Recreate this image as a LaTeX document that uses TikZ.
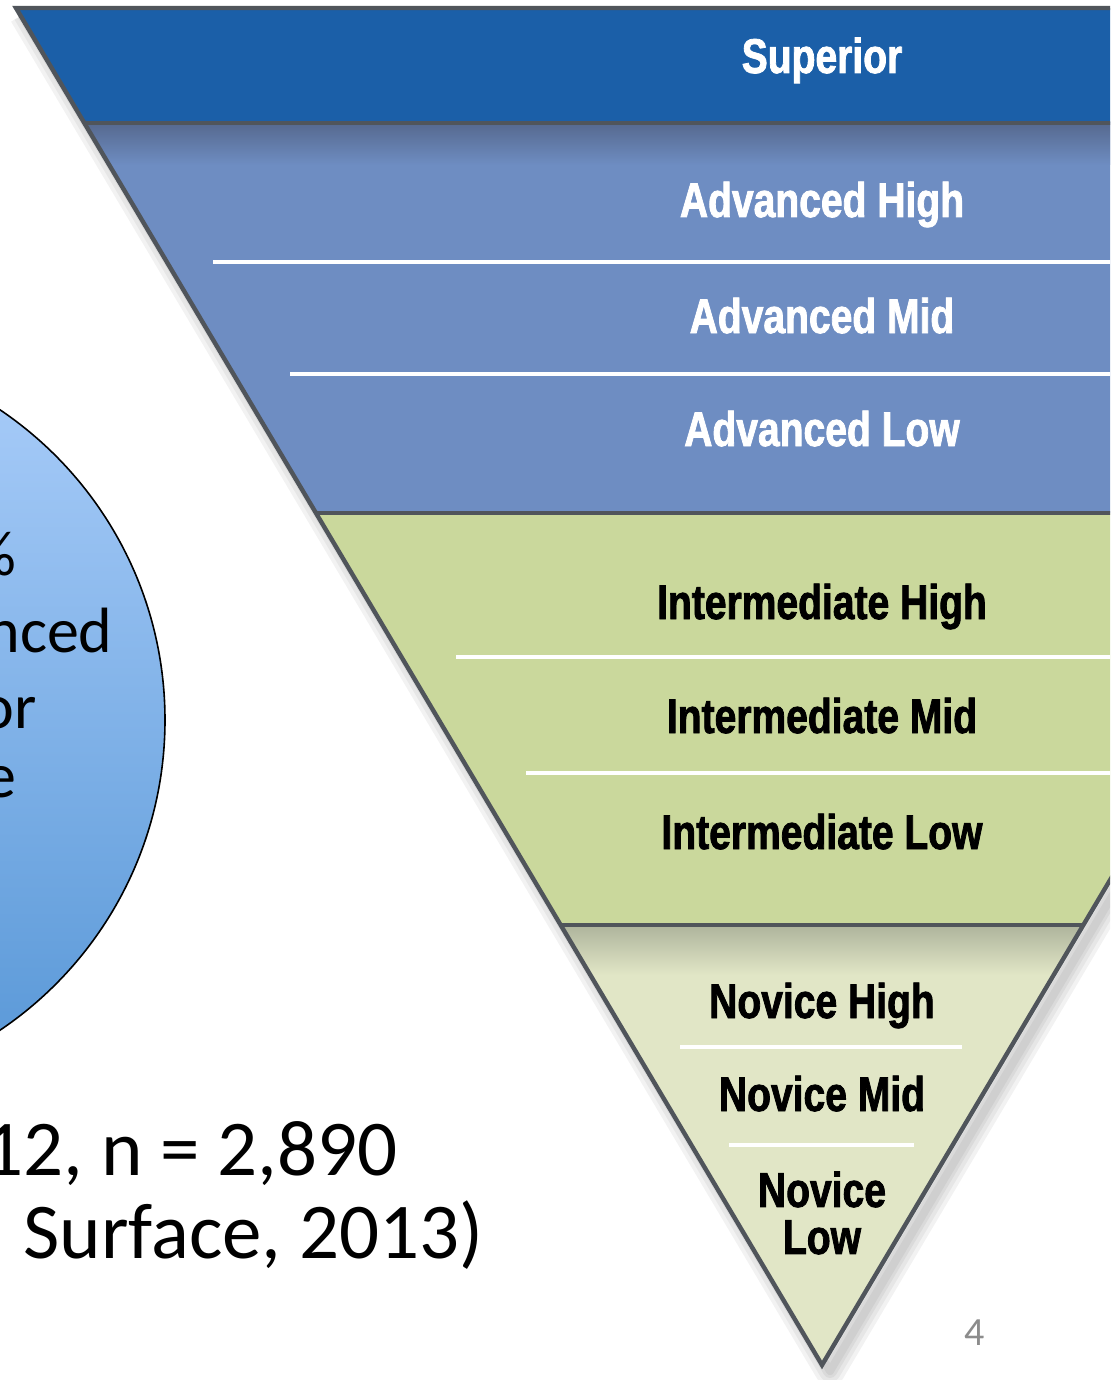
\documentclass[tikz,border=0pt]{standalone}
\usepackage{fontspec}
\setmainfont{Carlito}
\newfontfamily\levelfont[FakeStretch=0.8,BoldFeatures={FakeBold=1.6}]{Liberation Sans}

\definecolor{supblue}{HTML}{1B5FA8}
\definecolor{advblue}{HTML}{6E8DC2}
\definecolor{advshade}{HTML}{56698F}
\definecolor{intgreen}{HTML}{CAD89C}
\definecolor{novgreen}{HTML}{E1E6C6}
\definecolor{novshade}{HTML}{AEB49C}
\definecolor{rim}{HTML}{50555B}
\definecolor{balltop}{HTML}{ABCEFA}
\definecolor{ballbot}{HTML}{5696D6}

\begin{document}
\begin{tikzpicture}[x=0.5pt,y=-0.5pt,
  lvl/.style={font=\levelfont\bfseries\fontsize{24.4}{23.5}\selectfont,inner sep=0pt},
  lvlw/.style={lvl,text=white,anchor=base},
  lvlk/.style={lvl,text=black,anchor=base},
  sep/.style={white,line width=1.6pt},
  band/.style={rim,line width=2.2pt},
  big/.style={font=\fontsize{39.5}{44}\selectfont,inner sep=0pt,anchor=base east},
  ballnote/.style={font=\fontsize{32}{38}\selectfont,inner sep=0pt,anchor=base east}]
 \useasboundingbox (0,0) rectangle (1110,1380);
 \clip (0,0) rectangle (1110,1380);

 % circle on the left, mostly off the page
 \shade[top color=balltop,bottom color=ballbot] (-209,720) circle (374);
 \draw[black,line width=0.8pt] (-209,720) circle (374);
 \node[ballnote] (pct) at (17,575) {\%};
 \node[ballnote] (nced) at (113,652) {nced};
 \node[ballnote] (or) at (37,728) {or};
 \node[ballnote] (e) at (17,797) {e};

 \node[big] (cnt) at (398,1175) {12, n = 2,890};
 \node[big] (src) at (484,1258) {. Surface, 2013)};

 % corners of the pyramid
 \coordinate (tl) at (16,8);
 \coordinate (tr) at (1628,8);
 \coordinate (apex) at (822,1365);

 % soft shadow
 \foreach \w in {30,22,14,8}
  \draw[black,opacity=0.05,line width=\w*0.5pt,line join=round]
   (24,14) -- (830,1371) -- (1636,14);

 \begin{scope}
  \clip (tl) -- (tr) -- (apex) -- cycle;
  \fill[supblue] (0,8) rectangle (1700,123);
  \fill[advblue] (0,123) rectangle (1700,513);
  \shade[top color=advshade,bottom color=advblue] (0,123) rectangle (1700,165);
  \fill[intgreen] (0,513) rectangle (1700,925);
  \fill[novgreen] (0,925) rectangle (1700,1365);
  \shade[top color=novshade,bottom color=novgreen] (0,925) rectangle (1700,975);
  % thin white rules between sublevels
  \draw[sep] (213,262) -- (1700,262);
  \draw[sep] (290,374) -- (1700,374);
  \draw[sep] (456,657) -- (1700,657);
  \draw[sep] (526,773) -- (1700,773);
  \draw[sep] (680,1047) -- (962,1047);
  \draw[sep] (729,1145) -- (914,1145);
  % dark rules between main levels
  \draw[band] (0,123) -- (1700,123);
  \draw[band] (0,513) -- (1700,513);
  \draw[band] (0,925) -- (1700,925);
 \end{scope}
 \draw[band,line join=miter] (tr) -- (tl) -- (apex) -- cycle;

 \node[lvlw] (sup) at (822,73) {Superior};
 \node[lvlw] (ah) at (822,217) {Advanced High};
 \node[lvlw] (am) at (822,333) {Advanced Mid};
 \node[lvlw] (al) at (822,446) {Advanced Low};
 \node[lvlk] (ih) at (822,619) {Intermediate High};
 \node[lvlk] (im) at (822,733) {Intermediate Mid};
 \node[lvlk] (il) at (822,849) {Intermediate Low};
 \node[lvlk] (nh) at (822,1018) {Novice High};
 \node[lvlk] (nm) at (822,1111) {Novice Mid};
 \node[lvl,align=center] (nl) at (822,1213) {Novice\\Low};

 \node[font=\fontsize{20}{24}\selectfont,text=black!45,inner sep=0pt] (pg) at (975,1333) {4};
\end{tikzpicture}
\end{document}
